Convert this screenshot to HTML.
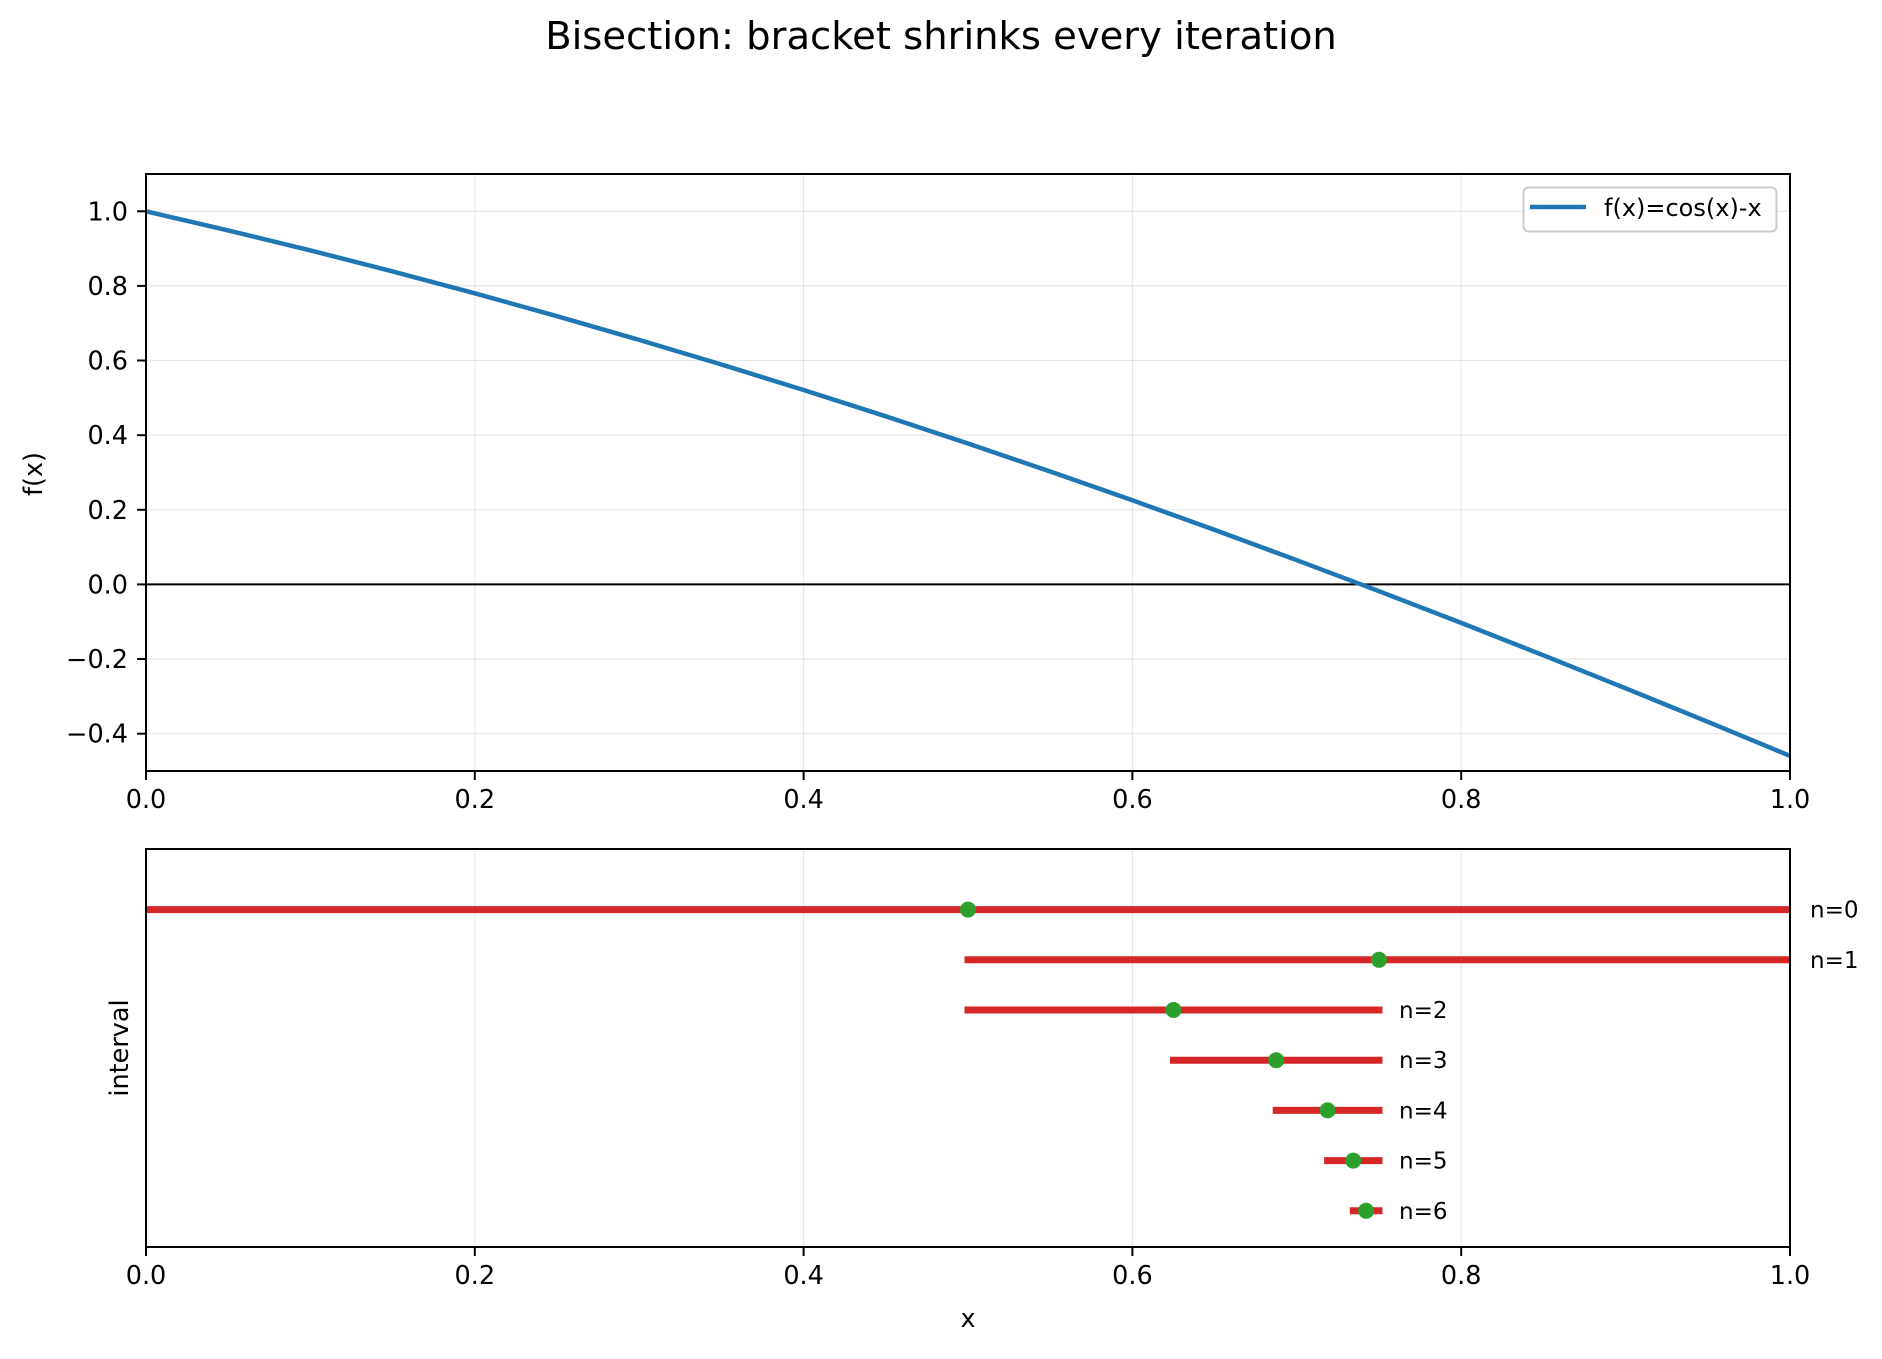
<!DOCTYPE html>
<html><head><meta charset="utf-8"><style>
html,body{margin:0;padding:0;background:#fff}
svg text{font-family:"DejaVu Sans","Liberation Sans",sans-serif;fill:#000}
</style></head><body>
<svg width="1882" height="1354" viewBox="0 0 1882 1354" xmlns="http://www.w3.org/2000/svg">
<defs><clipPath id="cb"><rect x="146" y="849" width="1644" height="398"/></clipPath></defs>
<text x="941" y="49" font-size="38.5" text-anchor="middle">Bisection: bracket shrinks every iteration</text>

<!-- TOP AXES -->
<g stroke="#b0b0b0" stroke-opacity="0.3" stroke-width="1.2">
<line x1="146" y1="174" x2="146" y2="771"/><line x1="474.8" y1="174" x2="474.8" y2="771"/><line x1="803.6" y1="174" x2="803.6" y2="771"/><line x1="1132.4" y1="174" x2="1132.4" y2="771"/><line x1="1461.2" y1="174" x2="1461.2" y2="771"/><line x1="1790" y1="174" x2="1790" y2="771"/>
<line x1="146" y1="733.7" x2="1790" y2="733.7"/><line x1="146" y1="659" x2="1790" y2="659"/><line x1="146" y1="584.4" x2="1790" y2="584.4"/><line x1="146" y1="509.8" x2="1790" y2="509.8"/><line x1="146" y1="435.2" x2="1790" y2="435.2"/><line x1="146" y1="360.5" x2="1790" y2="360.5"/><line x1="146" y1="285.9" x2="1790" y2="285.9"/><line x1="146" y1="211.3" x2="1790" y2="211.3"/>
</g>
<line x1="146" y1="584.4" x2="1790" y2="584.4" stroke="#000" stroke-width="2"/>
<path fill="none" stroke="#1f77b4" stroke-width="4.5" stroke-linejoin="round" d="M146,211.3 L228.2,230.4 L310.4,250.4 L392.6,271.4 L474.8,293.3 L557,316.2 L639.2,339.9 L721.4,364.5 L803.6,390 L885.8,416.3 L968,443.5 L1050.2,471.5 L1132.4,500.3 L1214.6,529.9 L1296.8,560.2 L1379,591.2 L1461.2,622.9 L1543.4,655.3 L1625.6,688.3 L1707.8,721.8 L1790,755.9"/>
<rect x="146" y="174" width="1644" height="597" fill="none" stroke="#000" stroke-width="2"/>
<g stroke="#000" stroke-width="2">
<line x1="146" y1="771" x2="146" y2="780"/><line x1="474.8" y1="771" x2="474.8" y2="780"/><line x1="803.6" y1="771" x2="803.6" y2="780"/><line x1="1132.4" y1="771" x2="1132.4" y2="780"/><line x1="1461.2" y1="771" x2="1461.2" y2="780"/><line x1="1790" y1="771" x2="1790" y2="780"/>
<line x1="137" y1="733.7" x2="146" y2="733.7"/><line x1="137" y1="659" x2="146" y2="659"/><line x1="137" y1="584.4" x2="146" y2="584.4"/><line x1="137" y1="509.8" x2="146" y2="509.8"/><line x1="137" y1="435.2" x2="146" y2="435.2"/><line x1="137" y1="360.5" x2="146" y2="360.5"/><line x1="137" y1="285.9" x2="146" y2="285.9"/><line x1="137" y1="211.3" x2="146" y2="211.3"/>
</g>
<g font-size="25.5" text-anchor="middle">
<text x="146" y="808">0.0</text><text x="474.8" y="808">0.2</text><text x="803.6" y="808">0.4</text><text x="1132.4" y="808">0.6</text><text x="1461.2" y="808">0.8</text><text x="1790" y="808">1.0</text>
</g>
<g font-size="25.5" text-anchor="end">
<text x="128" y="742.7">−0.4</text><text x="128" y="668">−0.2</text><text x="128" y="593.4">0.0</text><text x="128" y="518.8">0.2</text><text x="128" y="444.2">0.4</text><text x="128" y="369.5">0.6</text><text x="128" y="294.9">0.8</text><text x="128" y="220.3">1.0</text>
</g>
<text transform="translate(42,474) rotate(-90)" font-size="25.5" text-anchor="middle">f(x)</text>
<rect x="1523.5" y="187.5" width="253" height="44" rx="5" fill="#fff" fill-opacity="0.8" stroke="#ccc" stroke-width="2"/>
<line x1="1530" y1="207" x2="1586" y2="207" stroke="#1f77b4" stroke-width="4.5"/>
<text x="1604" y="216" font-size="24">f(x)=cos(x)-x</text>

<!-- BOTTOM AXES -->
<g stroke="#b0b0b0" stroke-opacity="0.3" stroke-width="1.2">
<line x1="146" y1="849" x2="146" y2="1247"/><line x1="474.8" y1="849" x2="474.8" y2="1247"/><line x1="803.6" y1="849" x2="803.6" y2="1247"/><line x1="1132.4" y1="849" x2="1132.4" y2="1247"/><line x1="1461.2" y1="849" x2="1461.2" y2="1247"/><line x1="1790" y1="849" x2="1790" y2="1247"/>
</g>
<g stroke="#d62728" stroke-width="7" stroke-linecap="square" clip-path="url(#cb)">
<line x1="146" y1="909.6" x2="1790" y2="909.6"/>
<line x1="968" y1="959.8" x2="1790" y2="959.8"/>
<line x1="968" y1="1010" x2="1379" y2="1010"/>
<line x1="1173.5" y1="1060.2" x2="1379" y2="1060.2"/>
<line x1="1276.2" y1="1110.4" x2="1379" y2="1110.4"/>
<line x1="1327.6" y1="1160.6" x2="1379" y2="1160.6"/>
<line x1="1353.3" y1="1210.8" x2="1379" y2="1210.8"/>
</g>
<g fill="#2ca02c">
<circle cx="968" cy="909.6" r="8"/><circle cx="1379" cy="959.8" r="8"/><circle cx="1173.5" cy="1010" r="8"/><circle cx="1276.2" cy="1060.2" r="8"/><circle cx="1327.6" cy="1110.4" r="8"/><circle cx="1353.3" cy="1160.6" r="8"/><circle cx="1366.1" cy="1210.8" r="8"/>
</g>
<rect x="146" y="849" width="1644" height="398" fill="none" stroke="#000" stroke-width="2"/>
<g font-size="23">
<text x="1810" y="917.6">n=0</text><text x="1810" y="967.8">n=1</text><text x="1399" y="1018">n=2</text><text x="1399" y="1068.2">n=3</text><text x="1399" y="1118.4">n=4</text><text x="1399" y="1168.6">n=5</text><text x="1399" y="1218.8">n=6</text>
</g>
<g stroke="#000" stroke-width="2">
<line x1="146" y1="1247" x2="146" y2="1256"/><line x1="474.8" y1="1247" x2="474.8" y2="1256"/><line x1="803.6" y1="1247" x2="803.6" y2="1256"/><line x1="1132.4" y1="1247" x2="1132.4" y2="1256"/><line x1="1461.2" y1="1247" x2="1461.2" y2="1256"/><line x1="1790" y1="1247" x2="1790" y2="1256"/>
</g>
<g font-size="25.5" text-anchor="middle">
<text x="146" y="1284">0.0</text><text x="474.8" y="1284">0.2</text><text x="803.6" y="1284">0.4</text><text x="1132.4" y="1284">0.6</text><text x="1461.2" y="1284">0.8</text><text x="1790" y="1284">1.0</text>
</g>
<text x="968" y="1327" font-size="25.5" text-anchor="middle">x</text>
<text transform="translate(128,1048) rotate(-90)" font-size="25.5" text-anchor="middle">interval</text>
</svg>
</body></html>
